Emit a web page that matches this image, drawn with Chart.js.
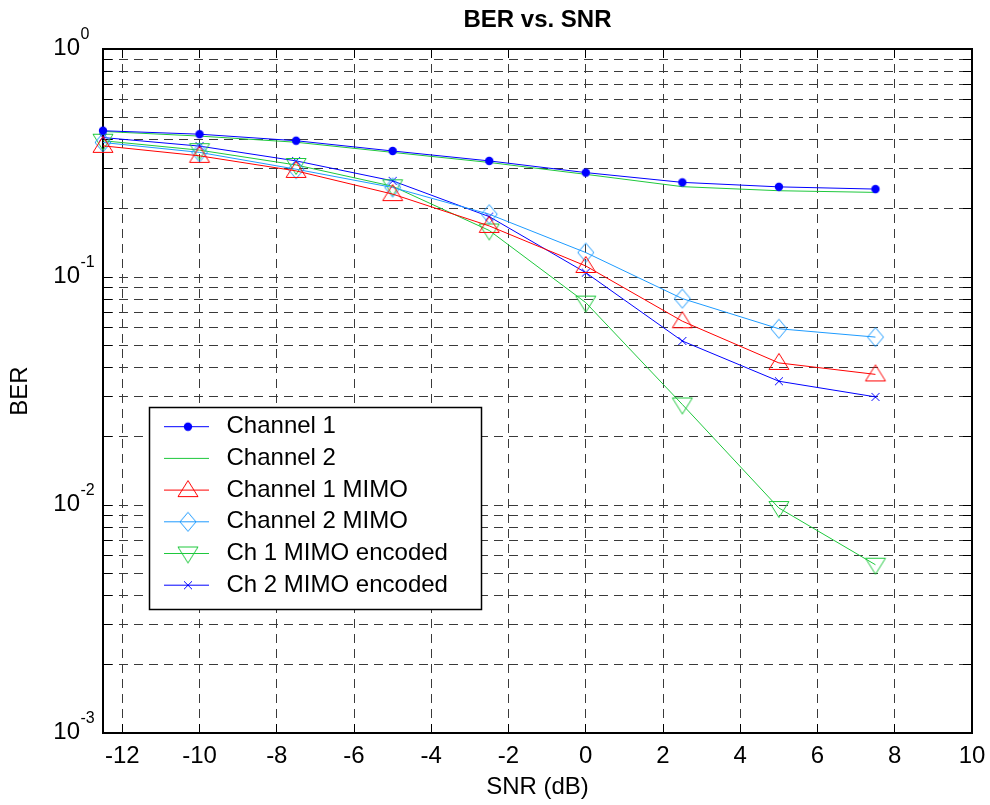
<!DOCTYPE html>
<html>
<head>
<meta charset="utf-8">
<title>BER vs. SNR</title>
<script src="https://cdn.jsdelivr.net/npm/chart.js@4.4.1/dist/chart.umd.min.js"></script>
<style>
  html, body { margin: 0; padding: 0; background: #fff; }
  canvas { display: block; }
</style>
</head>
<body>
<canvas id="berChart" width="990" height="805"></canvas>
<script>
// SNR points (dB)
const snr = [-12.5, -10, -7.5, -5, -2.5, 0, 2.5, 5, 7.5];

// BER values
const channel1      = [0.438, 0.423, 0.396, 0.357, 0.323, 0.287, 0.260, 0.2485, 0.243];
const channel2      = [0.435, 0.415, 0.390, 0.352, 0.318, 0.282, 0.249, 0.239, 0.235];
const channel1Mimo  = [0.376, 0.340, 0.292, 0.231, 0.1675, 0.1118, 0.064, 0.042, 0.0374];
const channel2Mimo  = [0.389, 0.352, 0.297, 0.247, 0.1885, 0.128, 0.0804, 0.0593, 0.0545];
const ch1MimoEnc    = [0.396, 0.360, 0.310, 0.250, 0.160, 0.0772, 0.0276, 0.0097, 0.00547];
const ch2MimoEnc    = [0.409, 0.375, 0.323, 0.264, 0.184, 0.1045, 0.0524, 0.0349, 0.0298];

// axis ticks
const xTicks = [-12, -10, -8, -6, -4, -2, 0, 2, 4, 6, 8, 10];
const yDecades = [0.001, 0.01, 0.1, 1];
const yExponents = ['-3', '-2', '-1', '0'];

const FONT = 'Liberation Sans, Arial, sans-serif';
const GRID = '#3a3a3a';

// minor log ticks 1..9 x decade
const yTicks = [];
yDecades.forEach(function(d, i) {
    if (i === yDecades.length - 1) { yTicks.push(d); return; }
    for (let m = 1; m <= 9; m++) yTicks.push(+(d * m).toPrecision(3));
});

// marker images, MATLAB style
function marker(kind, color) {
    const c = document.createElement('canvas');
    c.width = 24; c.height = 24;
    const g = c.getContext('2d');
    g.strokeStyle = color; g.fillStyle = color; g.lineWidth = 1;
    const cx = 12, cy = 12;
    g.beginPath();
    if (kind === 'dot') {
        g.arc(cx, cy, 4.2, 0, Math.PI * 2);
        g.fill();
        return c;
    }
    if (kind === 'up') {
        g.moveTo(cx, cy - 9.5); g.lineTo(cx + 10, cy + 6.5); g.lineTo(cx - 10, cy + 6.5);
    } else if (kind === 'down') {
        g.moveTo(cx - 10, cy - 6.5); g.lineTo(cx + 10, cy - 6.5); g.lineTo(cx, cy + 9.5);
    } else if (kind === 'diamond') {
        g.moveTo(cx, cy - 9.5); g.lineTo(cx + 8, cy); g.lineTo(cx, cy + 9.5); g.lineTo(cx - 8, cy);
    } else if (kind === 'x') {
        g.moveTo(cx - 4, cy - 4); g.lineTo(cx + 4, cy + 4);
        g.moveTo(cx + 4, cy - 4); g.lineTo(cx - 4, cy + 4);
        g.stroke();
        return c;
    }
    g.closePath();
    g.stroke();
    return c;
}

function series(label, values, color, kind) {
    return {
        label: label,
        data: snr.map((x, i) => ({ x: x, y: values[i] })),
        borderColor: color,
        backgroundColor: color,
        borderWidth: 1,
        pointStyle: kind ? marker(kind, color) : 'circle',
        pointRadius: kind ? 6 : 0,
        pointHoverRadius: kind ? 6 : 0,
        tension: 0,
        fill: false,
        clip: false
    };
}

const datasets = [
    series('Channel 1', channel1, '#0000ff', 'dot'),
    series('Channel 2', channel2, '#1ec83c', null),
    series('Channel 1 MIMO', channel1Mimo, '#ff0000', 'up'),
    series('Channel 2 MIMO', channel2Mimo, '#1e9bff', 'diamond'),
    series('Ch 1 MIMO encoded', ch1MimoEnc, '#1ec83c', 'down'),
    series('Ch 2 MIMO encoded', ch2MimoEnc, '#0000ff', 'x')
];

// y tick labels as 10^n and the boxed legend inside the axes
const decorPlugin = {
    id: 'decor',
    afterDraw(chart) {
        const ctx = chart.ctx;
        const ys = chart.scales.y;
        ctx.save();
        ctx.fillStyle = '#000';
        yDecades.forEach(function(v, i) {
            const py = ys.getPixelForValue(v);
            ctx.font = '24px ' + FONT;
            ctx.textAlign = 'right';
            ctx.textBaseline = 'middle';
            ctx.fillText('10', 80, py - 1);
            ctx.font = '16px ' + FONT;
            ctx.textAlign = 'left';
            ctx.textBaseline = 'alphabetic';
            ctx.fillText(yExponents[i], 80.5, py - 10);
        });

        // legend
        const bx = 149.5, by = 407.5, bw = 332, bh = 202;
        ctx.fillStyle = '#fff';
        ctx.fillRect(bx, by, bw, bh);
        ctx.strokeStyle = '#000';
        ctx.lineWidth = 1.5;
        ctx.strokeRect(bx, by, bw, bh);
        chart.data.datasets.forEach(function(ds, i) {
            const ry = 426.7 + i * 31.7;
            ctx.strokeStyle = ds.borderColor;
            ctx.lineWidth = 1;
            ctx.beginPath();
            ctx.moveTo(164, ry);
            ctx.lineTo(209, ry);
            ctx.stroke();
            if (ds.pointRadius > 0) {
                const img = ds.pointStyle;
                ctx.drawImage(img, 188 - img.width / 2, ry - img.height / 2);
            }
            ctx.fillStyle = '#000';
            ctx.font = '24px ' + FONT;
            ctx.textAlign = 'left';
            ctx.textBaseline = 'middle';
            ctx.fillText(ds.label, 226.5, ry);
        });
        ctx.restore();
    }
};

Chart.defaults.font.family = FONT;
Chart.defaults.font.size = 24;
Chart.defaults.color = '#000';

const gridOpts = { color: GRID, lineWidth: 1, tickLength: -9, tickColor: '#000', tickWidth: 1 };
const borderOpts = { color: '#000', width: 2, dash: [9, 6] };

function noPad(s) {
    s.paddingLeft = 0; s.paddingRight = 0; s.paddingTop = 0; s.paddingBottom = 0;
}

new Chart(document.getElementById('berChart').getContext('2d'), {
    type: 'line',
    data: { datasets: datasets },
    plugins: [decorPlugin],
    options: {
        responsive: false,
        animation: false,
        layout: { padding: { left: 0, right: 18, top: 0, bottom: 0 } },
        plugins: {
            legend: { display: false },
            tooltip: { enabled: false },
            title: {
                display: true,
                text: 'BER vs. SNR',
                fullSize: false,
                color: '#000',
                font: { size: 24, weight: 'bold' },
                padding: { top: 6.4, bottom: 13.8 }
            }
        },
        scales: {
            x: {
                type: 'linear',
                position: 'bottom',
                min: -12.5,
                max: 10,
                afterBuildTicks: s => { s.ticks = xTicks.map(v => ({ value: v })); },
                afterFit: s => { s.height = 72; noPad(s); },
                ticks: { autoSkip: false, maxRotation: 0, padding: 18, color: '#000', callback: v => String(v) },
                grid: gridOpts,
                border: borderOpts,
                title: { display: true, text: 'SNR (dB)', color: '#000', padding: { top: 0, bottom: 3.6 } }
            },
            y: {
                type: 'logarithmic',
                position: 'left',
                min: 0.001,
                max: 1,
                afterBuildTicks: s => { s.ticks = yTicks.map(v => ({ value: v })); },
                afterFit: s => { s.width = 103; noPad(s); },
                ticks: { display: false },
                grid: gridOpts,
                border: borderOpts,
                title: { display: true, text: 'BER', color: '#000', padding: { top: 5.6, bottom: 0 } }
            },
            x2: {
                type: 'linear',
                position: 'top',
                min: -12.5,
                max: 10,
                afterBuildTicks: s => { s.ticks = xTicks.map(v => ({ value: v })); },
                afterFit: s => { s.height = 0; noPad(s); },
                ticks: { display: false },
                grid: { drawOnChartArea: false, tickLength: -9, tickColor: '#000', tickWidth: 1 },
                border: { color: '#000', width: 2 }
            },
            y2: {
                type: 'logarithmic',
                position: 'right',
                min: 0.001,
                max: 1,
                afterBuildTicks: s => { s.ticks = yTicks.map(v => ({ value: v })); },
                afterFit: s => { s.width = 0; noPad(s); },
                ticks: { display: false },
                grid: { drawOnChartArea: false, tickLength: -9, tickColor: '#000', tickWidth: 1 },
                border: { color: '#000', width: 2 }
            }
        }
    }
});
</script>
</body>
</html>
